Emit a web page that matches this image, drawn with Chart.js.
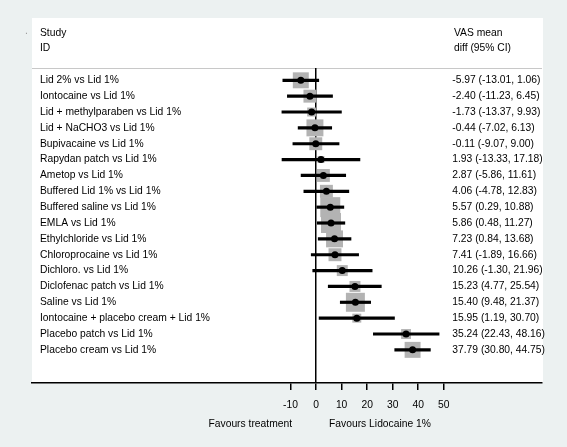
<!DOCTYPE html>
<html>
<head>
<meta charset="utf-8">
<script src="https://cdn.jsdelivr.net/npm/chart.js@4"></script>
<style>
  html, body { margin: 0; padding: 0; background: #ecf1f1; }
  #wrap { width: 567px; height: 447px; }
</style>
</head>
<body>
<div id="wrap"><canvas id="forest"></canvas></div>
<script>
// studies, top to bottom
const studies = [
    'Lid 2% vs Lid 1%',
    'Iontocaine vs Lid 1%',
    'Lid + methylparaben vs Lid 1%',
    'Lid + NaCHO3 vs Lid 1%',
    'Bupivacaine vs Lid 1%',
    'Rapydan patch vs Lid 1%',
    'Ametop vs Lid 1%',
    'Buffered Lid 1% vs Lid 1%',
    'Buffered saline vs Lid 1%',
    'EMLA vs Lid 1%',
    'Ethylchloride vs Lid 1%',
    'Chloroprocaine vs Lid 1%',
    'Dichloro. vs Lid 1%',
    'Diclofenac patch vs Lid 1%',
    'Saline vs Lid 1%',
    'Iontocaine + placebo cream + Lid 1%',
    'Placebo patch vs Lid 1%',
    'Placebo cream vs Lid 1%'
];
const meanDiff = [-5.97, -2.40, -1.73, -0.44, -0.11, 1.93, 2.87, 4.06, 5.57, 5.86, 7.23, 7.41, 10.26, 15.23, 15.40, 15.95, 35.24, 37.79];
const ciLow = [-13.01, -11.23, -13.37, -7.02, -9.07, -13.33, -5.86, -4.78, 0.29, 0.48, 0.84, -1.89, -1.30, 4.77, 9.48, 1.19, 22.43, 30.80];
const ciHigh = [1.06, 6.45, 9.93, 6.13, 9.00, 17.18, 11.61, 12.83, 10.88, 11.27, 13.68, 16.66, 21.96, 25.54, 21.37, 30.70, 48.16, 44.75];
// study weights (%)
const weights = [7.0, 4.6, 2.2, 7.9, 4.6, 1.3, 4.6, 4.6, 11.0, 11.0, 7.9, 4.6, 3.3, 3.3, 9.9, 2.2, 2.7, 7.0];
const xTicks = [-10, 0, 10, 20, 30, 40, 50];

const ciText = meanDiff.map((m, i) => m.toFixed(2) + ' (' + ciLow[i].toFixed(2) + ', ' + ciHigh[i].toFixed(2) + ')');
// fresh tick objects for each axis (chart.js writes the label into them)
const rowTicks = () => studies.map((s, i) => ({ value: i }));

Chart.defaults.font.family = '"Liberation Sans", Arial, sans-serif';
Chart.defaults.font.size = 10.3;
Chart.defaults.color = '#000';

// panel, header and the two bottom captions
const decor = {
    id: 'decor',
    beforeDraw(chart) {
        const ctx = chart.ctx;
        const ca = chart.chartArea;
        ctx.save();
        ctx.fillStyle = '#ecf1f1';
        ctx.fillRect(0, 0, chart.width, chart.height);
        ctx.fillStyle = '#fff';
        ctx.fillRect(ca.left, 18, ca.right - ca.left + 1, ca.bottom - 18);
        ctx.strokeStyle = '#c8c8c8';
        ctx.lineWidth = 1;
        ctx.beginPath();
        ctx.moveTo(ca.left, ca.top + 0.5);
        ctx.lineTo(ca.right, ca.top + 0.5);
        ctx.stroke();
        ctx.restore();
    },
    afterDraw(chart) {
        const ctx = chart.ctx;
        const ca = chart.chartArea;
        const x0 = chart.scales.x.getPixelForValue(0);
        ctx.save();
        ctx.font = '10.3px "Liberation Sans", Arial, sans-serif';
        ctx.fillStyle = '#000';
        ctx.textBaseline = 'middle';
        ctx.textAlign = 'left';
        ctx.fillText('Study', ca.left + 8, 33);
        ctx.fillText('ID', ca.left + 8, 48.5);
        ctx.fillText('VAS mean', ca.left + 422, 33);
        ctx.fillText('diff (95% CI)', ca.left + 422, 48.5);
        ctx.textAlign = 'right';
        ctx.fillText('Favours treatment', x0 - 24, 424);
        ctx.textAlign = 'left';
        ctx.fillText('Favours Lidocaine 1%', x0 + 13, 424);
        ctx.fillStyle = '#999';
        ctx.fillText('.', 25, 31);
        ctx.restore();
    }
};

new Chart(document.getElementById('forest'), {
    type: 'scatter',
    data: {
        datasets: [
            {
                // weight boxes
                data: meanDiff.map((m, i) => ({ x: m, y: i })),
                pointStyle: 'rect',
                pointRadius: ctx => 6.03 * Math.sqrt(weights[ctx.dataIndex]) / Math.SQRT2,
                backgroundColor: '#b3b3b3',
                borderWidth: 0,
                order: 3
            },
            {
                // confidence intervals
                type: 'bar',
                indexAxis: 'y',
                data: ciLow.map((lo, i) => ({ y: i, x: [lo, ciHigh[i]] })),
                backgroundColor: '#000',
                barThickness: 2.5,
                borderWidth: 0,
                order: 2
            },
            {
                // point estimates
                data: meanDiff.map((m, i) => ({ x: m, y: i })),
                pointStyle: 'circle',
                pointRadius: 3.5,
                backgroundColor: '#000',
                borderWidth: 0,
                order: 1
            }
        ]
    },
    options: {
        responsive: true,
        maintainAspectRatio: false,
        animation: false,
        layout: { padding: { left: 32, right: 25, top: 68, bottom: 0 } },
        plugins: {
            legend: { display: false },
            tooltip: { enabled: false }
        },
        scales: {
            x: {
                type: 'linear',
                position: 'bottom',
                offset: false,
                min: -111.2,
                max: 88.45,
                afterBuildTicks: scale => { scale.ticks = xTicks.map(v => ({ value: v })); },
                afterFit: scale => { scale.height = 64; },
                ticks: { autoSkip: false, maxRotation: 0, padding: 9 },
                grid: {
                    offset: false,
                    color: ctx => (ctx.tick && ctx.tick.value === 0 ? '#000' : 'rgba(0,0,0,0)'),
                    lineWidth: 1.5,
                    tickColor: '#000',
                    tickWidth: 1.5,
                    tickLength: 7
                },
                border: { color: '#000', width: 1.5 }
            },
            y: {
                type: 'linear',
                position: 'left',
                reverse: true,
                offset: false,
                min: -0.776,
                max: 19.09,
                afterBuildTicks: scale => { scale.ticks = rowTicks(); },
                afterFit: scale => { scale.width = 0; },
                ticks: { mirror: true, padding: 8, autoSkip: false, callback: v => studies[v] },
                grid: { display: false, offset: false },
                border: { display: false }
            },
            y2: {
                type: 'linear',
                position: 'right',
                reverse: true,
                offset: false,
                min: -0.776,
                max: 19.09,
                afterBuildTicks: scale => { scale.ticks = rowTicks(); },
                afterFit: scale => { scale.width = 0; },
                ticks: { mirror: true, crossAlign: 'far', padding: 3, autoSkip: false, callback: v => ciText[v] },
                grid: { display: false, offset: false },
                border: { display: false }
            }
        }
    },
    plugins: [decor]
});
</script>
</body>
</html>
